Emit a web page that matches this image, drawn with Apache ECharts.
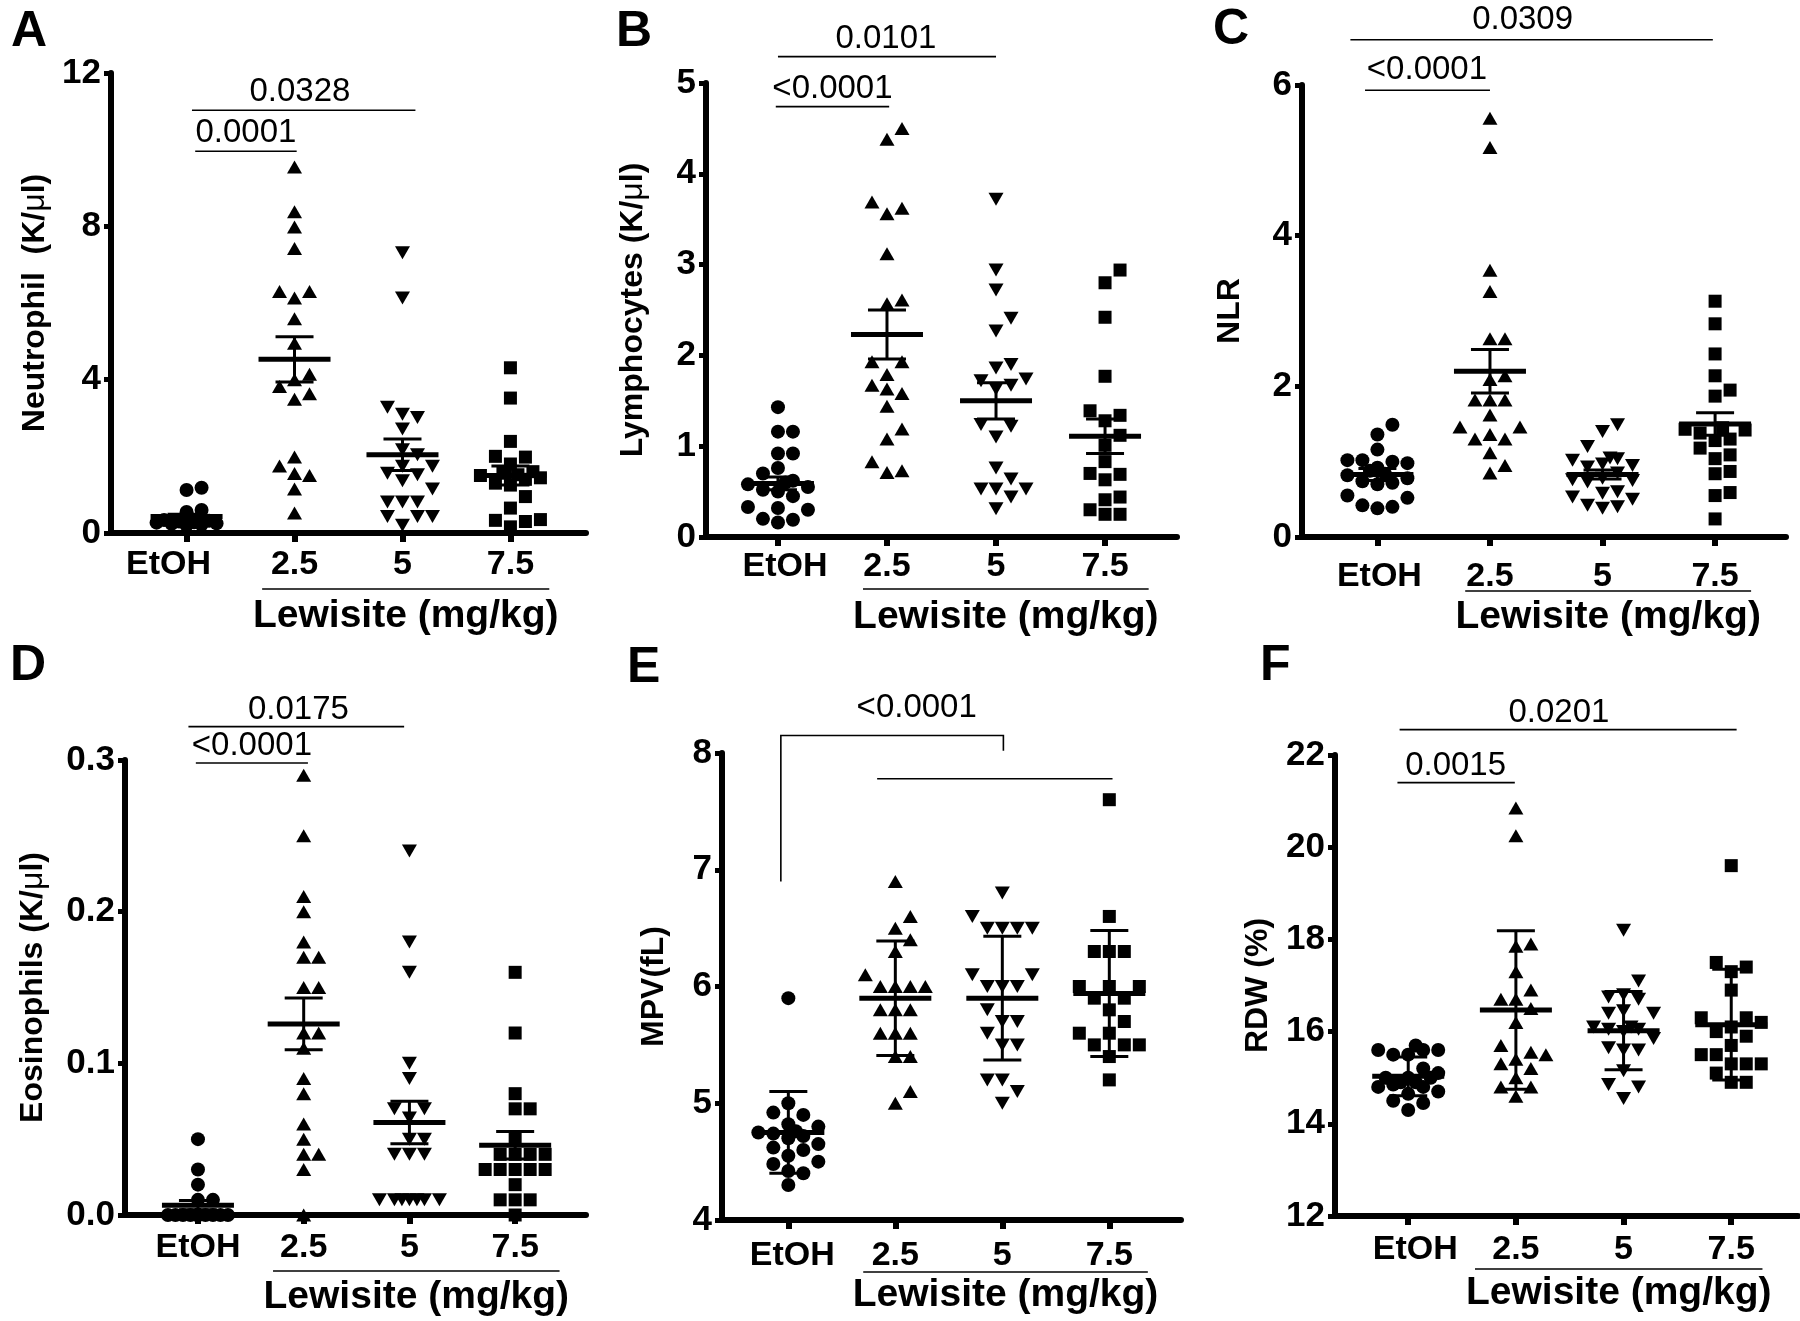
<!DOCTYPE html>
<html><head><meta charset="utf-8">
<script src="https://cdn.jsdelivr.net/npm/echarts@6/dist/echarts.min.js"></script>
<style>html,body{margin:0;padding:0;background:#fff}#c{width:1800px;height:1321px}</style>
</head><body><div id="c"></div>
<script>
// ---------------- DATA ----------------
const categories = ['EtOH', '2.5', '5', '7.5'];
const groupLabel = 'Lewisite (mg/kg)';

// A: Neutrophil (K/µl)
const neutTicks = [0, 4, 8, 12];
const neutEtOH = [1.18, 1.12, 0.6, 0.55, 0.5, 0.48, 0.45, 0.42, 0.4, 0.38, 0.36, 0.34, 0.32, 0.3, 0.28, 0.27, 0.25, 0.24, 0.22, 0.2];
const neut25 = [9.55, 8.38, 7.98, 7.42, 6.3, 6.3, 6.13, 5.59, 4.95, 4.14, 4.0, 3.82, 3.63, 3.49, 1.98, 1.75, 1.55, 1.5, 1.15, 0.52];
const neut5 = [7.31, 6.13, 3.28, 3.10, 3.01, 2.71, 2.17, 2.04, 1.74, 1.74, 1.56, 1.52, 1.36, 1.15, 0.81, 0.81, 0.81, 0.43, 0.43, 0.43, 0.2];
const neut75 = [4.31, 3.52, 2.39, 2.0, 1.98, 1.8, 1.6, 1.56, 1.52, 1.5, 1.44, 1.4, 1.3, 1.25, 0.95, 0.65, 0.35, 0.33, 0.3, 0.16];
const neutMean = [0.43, 4.53, 2.04, 1.5];
const neutErr = [0.06, 0.59, 0.41, 0.25];
const neutSig = [[0.05, 2.12, 11.03, '0.0328', 1.05], [0.08, 1.02, 9.96, '0.0001', 0.55]];

// B: Lymphocytes (K/µl)
const lymTicks = [0, 1, 2, 3, 4, 5];
const lymEtOH = [1.43, 1.16, 1.16, 0.92, 0.92, 0.76, 0.7, 0.62, 0.6, 0.58, 0.55, 0.52, 0.5, 0.45, 0.33, 0.32, 0.3, 0.2, 0.19, 0.16];
const lym25 = [4.5, 4.38, 3.69, 3.62, 3.56, 3.12, 2.61, 2.57, 1.93, 1.93, 1.79, 1.67, 1.63, 1.58, 1.44, 1.19, 1.08, 0.83, 0.73, 0.71];
const lym5 = [3.72, 2.94, 2.72, 2.41, 2.27, 1.90, 1.86, 1.74, 1.72, 1.67, 1.63, 1.24, 1.22, 1.10, 0.76, 0.64, 0.53, 0.53, 0.53, 0.44, 0.31];
const lym75 = [2.94, 2.80, 2.42, 1.77, 1.39, 1.34, 1.28, 1.12, 1.01, 0.83, 0.70, 0.69, 0.63, 0.44, 0.41, 0.30, 0.25, 0.25];
const lymMean = [0.59, 2.23, 1.5, 1.11];
const lymErr = [0.07, 0.27, 0.2, 0.19];
const lymSig = [[0.0, 2.0, 5.29, '0.0101', 0.99], [-0.02, 1.02, 4.74, '<0.0001', 0.5]];

// C: NLR
const nlrTicks = [0, 2, 4, 6];
const nlrEtOH = [1.49, 1.36, 1.16, 1.02, 1.02, 1.0, 0.98, 0.92, 0.88, 0.84, 0.82, 0.78, 0.74, 0.72, 0.7, 0.55, 0.52, 0.42, 0.4, 0.38];
const nlr25 = [5.56, 5.17, 3.54, 3.26, 2.63, 2.63, 2.14, 2.09, 1.82, 1.82, 1.82, 1.62, 1.46, 1.46, 1.36, 1.30, 1.30, 1.12, 0.95, 0.85];
const nlr5 = [1.49, 1.40, 1.20, 1.05, 1.04, 1.02, 0.97, 0.95, 0.93, 0.85, 0.78, 0.76, 0.75, 0.73, 0.6, 0.58, 0.53, 0.5, 0.42, 0.4, 0.38];
const nlr75 = [3.13, 2.83, 2.43, 2.14, 1.95, 1.87, 1.45, 1.43, 1.42, 1.38, 1.3, 1.28, 1.18, 1.09, 1.04, 0.87, 0.84, 0.59, 0.55, 0.24];
const nlrMean = [0.83, 2.2, 0.83, 1.5];
const nlrErr = [0.08, 0.29, 0.06, 0.15];
const nlrSig = [[-0.24, 2.98, 6.6, '0.0309', 1.29], [-0.11, 1.0, 5.93, '<0.0001', 0.44]];

// D: Eosinophils (K/µl)
const eosTicks = [0, 0.1, 0.2, 0.3];
const eosEtOH = [0.05, 0.03, 0.02, 0.01, 0.01, 0, 0, 0, 0, 0, 0, 0, 0, 0, 0, 0, 0, 0, 0, 0];
const eos25 = [0.29, 0.25, 0.21, 0.2, 0.18, 0.17, 0.17, 0.15, 0.15, 0.12, 0.12, 0.11, 0.09, 0.08, 0.06, 0.05, 0.04, 0.04, 0.03, 0.0];
const eos5 = [0.24, 0.18, 0.16, 0.1, 0.09, 0.07, 0.07, 0.064, 0.05, 0.05, 0.04, 0.04, 0.04, 0.01, 0.01, 0.01, 0.01, 0.01, 0.01, 0.01];
const eos75 = [0.16, 0.12, 0.08, 0.07, 0.07, 0.05, 0.04, 0.04, 0.04, 0.04, 0.03, 0.03, 0.03, 0.03, 0.03, 0.02, 0.01, 0.01, 0.01, 0.0];
const eosMean = [0.0065, 0.126, 0.061, 0.046];
const eosErr = [0.003, 0.017, 0.014, 0.009];
const eosSig = [[-0.09, 1.95, 0.322, '0.0175', 0.95], [-0.02, 1.04, 0.298, '<0.0001', 0.51]];

// E: MPV (fL)
const mpvTicks = [4, 5, 6, 7, 8];
const mpvEtOH = [5.9, 5.0, 4.92, 4.9, 4.82, 4.8, 4.76, 4.75, 4.74, 4.72, 4.7, 4.65, 4.62, 4.6, 4.55, 4.5, 4.48, 4.42, 4.4, 4.3];
const mpv25 = [6.9, 6.6, 6.5, 6.4, 6.3, 6.1, 6.0, 6.0, 6.0, 6.0, 5.8, 5.8, 5.8, 5.6, 5.6, 5.6, 5.4, 5.4, 5.1, 5.0];
const mpv5 = [6.8, 6.6, 6.5, 6.5, 6.5, 6.5, 6.1, 6.1, 6.0, 6.0, 6.0, 5.8, 5.7, 5.7, 5.6, 5.5, 5.5, 5.2, 5.2, 5.1, 5.0];
const mpv75 = [7.6, 6.6, 6.3, 6.3, 6.3, 6.0, 6.0, 6.0, 5.9, 5.9, 5.8, 5.7, 5.6, 5.6, 5.5, 5.5, 5.5, 5.4, 5.2];
const mpvMean = [4.75, 5.9, 5.9, 5.94];
const mpvErr = [0.35, 0.49, 0.53, 0.54];
// [x1, x2, y, label, labelX, leftDropTo, rightDropTo]
const mpvSig = [[-0.07, 2.01, 8.15, '<0.0001', 1.2, 6.9, 8.02], [0.83, 3.03, 7.78, '', 0]];

// F: RDW (%)
const rdwTicks = [12, 14, 16, 18, 20, 22];
const rdwEtOH = [15.7, 15.6, 15.6, 15.6, 15.5, 15.5, 15.2, 15.1, 15.0, 15.0, 15.0, 14.9, 14.9, 14.85, 14.8, 14.8, 14.7, 14.65, 14.5, 14.45, 14.3];
const rdw25 = [20.85, 20.25, 17.9, 17.85, 17.3, 16.9, 16.7, 16.7, 16.5, 16.2, 15.7, 15.55, 15.5, 15.4, 15.3, 15.2, 15.0, 14.8, 14.8, 14.6];
const rdw5 = [18.2, 17.1, 16.8, 16.75, 16.7, 16.45, 16.4, 16.4, 16.1, 16.1, 16.05, 16.05, 16.0, 15.85, 15.65, 15.6, 15.6, 15.15, 14.85, 14.8, 14.55];
const rdw75 = [19.6, 17.5, 17.4, 17.3, 16.9, 16.3, 16.3, 16.2, 16.1, 16.0, 15.9, 15.7, 15.5, 15.5, 15.3, 15.3, 15.3, 15.1, 14.9, 14.9];
const rdwMean = [15.03, 16.47, 16.02, 16.15];
const rdwErr = [0.42, 1.72, 0.85, 1.2];
const rdwSig = [[-0.08, 3.05, 22.55, '0.0201', 1.40], [-0.1, 0.99, 21.4, '0.0015', 0.44]];

// ---------------- LAYOUT ----------------
const FONT = "'Liberation Sans', Arial, Helvetica, sans-serif";
const panels = [
  { letter: 'A', name: 'Neutrophil  (K/{mu|μ}l)', groups: [neutEtOH, neut25, neut5, neut75], mean: neutMean, err: neutErr, ticks: neutTicks, sig: neutSig,
    grid: { left: 111, top: 73, width: 475, height: 460 }, xr: [-0.7, 3.7], nameGap: 60, labelMargin: 15, etohShift: -18, letterPos: [6, 2],
    under: [0.70, 3.36], underDy: 56, lewDy: 83, sigDy: 18 },
  { letter: 'B', name: 'Lymphocytes (K/{mu|μ}l)', groups: [lymEtOH, lym25, lym5, lym75], mean: lymMean, err: lymErr, ticks: lymTicks, sig: lymSig,
    grid: { left: 706, top: 83, width: 471, height: 454 }, xr: [-0.66, 3.66], nameGap: 57, labelMargin: 13, etohShift: 7, letterPos: [611, 2],
    under: [0.78, 3.40], underDy: 52, lewDy: 80, sigDy: 18 },
  { letter: 'C', name: 'NLR', groups: [nlrEtOH, nlr25, nlr5, nlr75], mean: nlrMean, err: nlrErr, ticks: nlrTicks, sig: nlrSig,
    grid: { left: 1302, top: 85, width: 484, height: 452 }, xr: [-0.67, 3.63], nameGap: 56, labelMargin: 23, etohShift: 2, letterPos: [1208, 0],
    under: [0.78, 3.32], underDy: 54, lewDy: 80, sigDy: 20 },
  { letter: 'D', name: 'Eosinophils (K/{mu|μ}l)', groups: [eosEtOH, eos25, eos5, eos75], mean: eosMean, err: eosErr, ticks: eosTicks, sig: eosSig,
    grid: { left: 125, top: 760, width: 461, height: 455 }, xr: [-0.69, 3.67], nameGap: 76, labelMargin: 16, etohShift: 0, letterPos: [5, 636],
    under: [0.71, 3.42], underDy: 56, lewDy: 82, sigDy: 17 },
  { letter: 'E', name: 'MPV(fL)', groups: [mpvEtOH, mpv25, mpv5, mpv75], mean: mpvMean, err: mpvErr, ticks: mpvTicks, sig: mpvSig,
    grid: { left: 722, top: 753, width: 459, height: 467 }, xr: [-0.62, 3.67], nameGap: 52, labelMargin: 19, etohShift: 4, letterPos: [622, 638],
    under: [0.70, 3.36], underDy: 52, lewDy: 75, sigDy: 28 },
  { letter: 'F', name: 'RDW (%)', groups: [rdwEtOH, rdw25, rdw5, rdw75], mean: rdwMean, err: rdwErr, ticks: rdwTicks, sig: rdwSig,
    grid: { left: 1335, top: 755, width: 463, height: 461 }, xr: [-0.68, 3.62], nameGap: 61, labelMargin: 17, etohShift: 7, letterPos: [1255, 636],
    under: [0.62, 3.29], underDy: 53, lewDy: 77, sigDy: 17 }
];

const markers = [
  { symbol: 'circle', size: 14, rot: 0 },
  { symbol: 'triangle', size: [15, 13], rot: 0 },
  { symbol: 'triangle', size: [15, 13], rot: 180 },
  { symbol: 'rect', size: 13, rot: 0 }
];

// beeswarm layout: returns horizontal pixel offsets
function swarm(vals, pxY) {
  const S = 15, SX = 14, SY = 14, MAXH = 30;
  const full = [0], half = [];
  for (let k = 1; k * S <= MAXH; k++) full.push(k * S, -k * S);
  for (let k = 1; (k - 0.5) * S <= MAXH; k++) half.push((k - 0.5) * S, -(k - 0.5) * S);
  const order = vals.map((v, i) => i).sort((a, b) => vals[a] - vals[b]);
  const placed = [], out = new Array(vals.length).fill(0);
  for (const i of order) {
    const y = vals[i] * pxY;
    const test = c => {
      let md = Infinity;
      for (const q of placed) if (Math.abs(q.y - y) < SY) md = Math.min(md, Math.abs(q.x - c));
      return md;
    };
    let chosen = null;
    for (const c of full) if (test(c) >= SX) { chosen = c; break; }
    if (chosen === null) for (const c of half) if (test(c) >= SX) { chosen = c; break; }
    if (chosen === null) {
      let best = -1;
      for (const c of full.concat(half)) { const d = test(c); if (d > best) { best = d; chosen = c; } }
    }
    placed.push({ x: chosen, y });
    out[i] = chosen;
  }
  return out;
}

const option = { animation: false, backgroundColor: '#fff', title: [], grid: [], xAxis: [], yAxis: [], series: [] };

panels.forEach((p, i) => {
  const ymin = p.ticks[0], ymax = p.ticks[p.ticks.length - 1];
  const step = p.ticks[1] - p.ticks[0];
  const decimals = p.ticks.some(t => Math.abs(t - Math.round(t)) > 1e-9) ? 1 : 0;
  const pxY = p.grid.height / (ymax - ymin);
  const pxX = p.grid.width / (p.xr[1] - p.xr[0]);

  option.title.push({ text: p.letter, left: p.letterPos[0], top: p.letterPos[1],
    textStyle: { fontSize: 50, fontWeight: 'bold', fontFamily: FONT, color: '#000' } });
  option.grid.push({ left: p.grid.left, top: p.grid.top, width: p.grid.width, height: p.grid.height, containLabel: false });

  const sh = p.etohShift;
  const pad = sh < 0 ? [0, -2 * sh, 0, 0] : [0, 0, 0, 2 * sh];
  const lblStyle = { fontSize: 34, fontWeight: 'bold', fontFamily: FONT, color: '#000' };
  option.xAxis.push({
    gridIndex: i, type: 'value', min: p.xr[0], max: p.xr[1],
    axisLine: { show: true, onZero: false, lineStyle: { color: '#000', width: 6 } },
    splitLine: { show: false },
    axisTick: { show: true, customValues: [0, 1, 2, 3], length: 9, lineStyle: { color: '#000', width: 6 } },
    axisLabel: { show: true, customValues: [0, 1, 2, 3], margin: p.labelMargin, ...lblStyle,
      formatter: v => { const c = categories[Math.round(v)]; return Math.round(v) === 0 ? '{e|' + c + '}' : c; },
      rich: { e: Object.assign({ padding: pad }, lblStyle) } }
  });
  option.yAxis.push({
    gridIndex: i, type: 'value', min: ymin, max: ymax, interval: step,
    name: p.name, nameLocation: 'middle', nameRotate: 90, nameGap: p.nameGap,
    nameTextStyle: { fontSize: 32, fontWeight: 'bold', fontFamily: FONT, color: '#000',
      rich: { mu: { fontSize: 32, fontWeight: 'normal', fontFamily: FONT, color: '#000' } } },
    axisLine: { show: true, onZero: false, lineStyle: { color: '#000', width: 6 } },
    axisTick: { show: true, length: 7, lineStyle: { color: '#000', width: 5 } },
    splitLine: { show: false },
    axisLabel: { show: true, margin: 10, ...lblStyle, fontSize: 35, formatter: v => v.toFixed(decimals) }
  });

  // points
  p.groups.forEach((vals, g) => {
    const offs = swarm(vals, pxY);
    const m = markers[g];
    option.series.push({
      type: 'scatter', xAxisIndex: i, yAxisIndex: i, silent: true, z: 2,
      symbol: m.symbol, symbolSize: m.size, symbolRotate: m.rot,
      itemStyle: { color: '#000', opacity: 1 },
      data: vals.map((v, k) => [g + offs[k] / pxX, v])
    });
  });

  // mean and error bars
  option.series.push({
    type: 'custom', xAxisIndex: i, yAxisIndex: i, silent: true, z: 5, clip: false,
    data: p.mean.map((m, g) => [g, m, p.err[g]]),
    renderItem: (params, api) => {
      const x = api.value(0), m = api.value(1), e = api.value(2);
      const pm = api.coord([x, m]), pt = api.coord([x, m + e]), pb = api.coord([x, m - e]);
      const st = w => ({ stroke: '#000', lineWidth: w, fill: null });
      return { type: 'group', children: [
        { type: 'line', shape: { x1: pt[0], y1: pt[1], x2: pb[0], y2: pb[1] }, style: st(3) },
        { type: 'line', shape: { x1: pt[0] - 19, y1: pt[1], x2: pt[0] + 19, y2: pt[1] }, style: st(3) },
        { type: 'line', shape: { x1: pb[0] - 19, y1: pb[1], x2: pb[0] + 19, y2: pb[1] }, style: st(3) },
        { type: 'line', shape: { x1: pm[0] - 36, y1: pm[1], x2: pm[0] + 36, y2: pm[1] }, style: st(5) }
      ] };
    }
  });

  // significance annotations
  option.series.push({
    type: 'custom', xAxisIndex: i, yAxisIndex: i, silent: true, z: 5, clip: false,
    data: p.sig.map((s, k) => [s[0], s[2], k]),
    renderItem: (params, api) => {
      const s = p.sig[api.value(2)];
      const a = api.coord([s[0], s[2]]), b = api.coord([s[1], s[2]]);
      const children = [];
      if (s.length > 5) {
        const a2 = api.coord([s[0], s[5]]), b2 = api.coord([s[1], s[6]]);
        children.push({ type: 'polyline', shape: { points: [a2, a, b, b2] }, style: { stroke: '#000', lineWidth: 1.6, fill: null } });
      } else {
        children.push({ type: 'line', shape: { x1: a[0], y1: a[1], x2: b[0], y2: b[1] }, style: { stroke: '#000', lineWidth: 1.6 } });
      }
      if (s[3]) {
        const t = api.coord([s[4], s[2]]);
        children.push({ type: 'text', x: t[0], y: a[1] - p.sigDy,
          style: { text: s[3], fontSize: 33, fontWeight: 'normal', fontFamily: FONT, fill: '#000',
                   textAlign: 'center', textVerticalAlign: 'middle' } });
      }
      return { type: 'group', children };
    }
  });

  // Lewisite group label
  option.series.push({
    type: 'custom', xAxisIndex: i, yAxisIndex: i, silent: true, z: 5, clip: false,
    data: [[p.under[0], ymin]],
    renderItem: (params, api) => {
      const a = api.coord([p.under[0], ymin]), b = api.coord([p.under[1], ymin]);
      return { type: 'group', children: [
        { type: 'line', shape: { x1: a[0], y1: a[1] + p.underDy, x2: b[0], y2: b[1] + p.underDy }, style: { stroke: '#000', lineWidth: 1.6 } },
        { type: 'text', x: (a[0] + b[0]) / 2, y: a[1] + p.lewDy,
          style: { text: groupLabel, fontSize: 39, fontWeight: 'bold', fontFamily: FONT, fill: '#000',
                   textAlign: 'center', textVerticalAlign: 'middle' } }
      ] };
    }
  });
});

const chart = echarts.init(document.getElementById('c'), null, { renderer: 'canvas' });
chart.setOption(option);
</script>
</body></html>
